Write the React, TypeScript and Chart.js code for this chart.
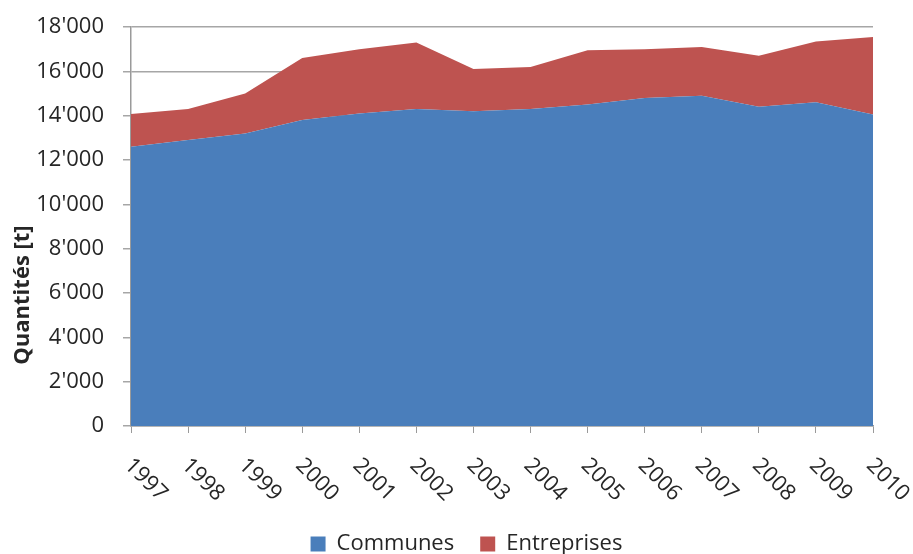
import React, { useEffect, useRef } from "react";
import { Chart, registerables } from "chart.js";

Chart.register(...registerables);

const years = ["1997", "1998", "1999", "2000", "2001", "2002", "2003", "2004", "2005", "2006", "2007", "2008", "2009", "2010"];
const communes = [12600, 12900, 13200, 13800, 14100, 14300, 14200, 14300, 14500, 14800, 14900, 14400, 14600, 14050];
const entreprises = [1470, 1400, 1800, 2800, 2900, 3000, 1900, 1900, 2450, 2200, 2200, 2300, 2750, 3500];
const yAxisTitle = "Quantités [t]";

const FONT = '"Open Sans", sans-serif';
const TEXT = "#262626";

function fmt(v: number): string {
  return String(v).replace(/\B(?=(\d{3})+(?!\d))/g, "'");
}

export default function App() {
  const ref = useRef<HTMLCanvasElement>(null);

  useEffect(() => {
    if (!ref.current) return;

    const decor = {
      id: "decor",
      afterDraw(chart: any) {
        const ctx = chart.ctx;
        const xs = chart.scales.x;
        const bottom = chart.chartArea.bottom;
        ctx.save();
        ctx.font = `22px ${FONT}`;
        ctx.fillStyle = TEXT;
        ctx.textAlign = "left";
        ctx.textBaseline = "middle";
        years.forEach((y, i) => {
          const px = xs.getPixelForValue(i);
          ctx.save();
          ctx.translate(px - 3, bottom + 36);
          ctx.rotate(Math.PI / 4);
          ctx.fillText(y, 0, 0);
          ctx.restore();
        });
        ctx.save();
        ctx.font = `bold 22px ${FONT}`;
        ctx.textAlign = "center";
        ctx.translate(23, 295);
        ctx.rotate(-Math.PI / 2);
        ctx.fillText(yAxisTitle, 0, 0);
        ctx.restore();
        ctx.restore();
      },
    };

    const chart = new Chart(ref.current, {
      type: "line",
      data: {
        labels: years,
        datasets: [
          {
            label: "Communes",
            data: communes,
            backgroundColor: "#4a7ebb",
            borderColor: "#4a7ebb",
            borderWidth: 0,
            pointRadius: 0,
            fill: "origin",
            tension: 0,
          },
          {
            label: "Entreprises",
            data: entreprises,
            backgroundColor: "#be5350",
            borderColor: "#be5350",
            borderWidth: 0,
            pointRadius: 0,
            fill: "-1",
            tension: 0,
          },
        ],
      },
      options: {
        responsive: false,
        animation: false,
        layout: { padding: { top: 27, left: 20, right: 0, bottom: -11 } },
        plugins: {
          legend: {
            position: "bottom",
            labels: {
              boxWidth: 15,
              boxHeight: 15,
              padding: 26,
              color: TEXT,
              font: { family: FONT, size: 22 },
            },
          },
          tooltip: { enabled: false },
        },
        scales: {
          x: {
            type: "category",
            offset: false,
            grid: { drawOnChartArea: false, drawTicks: true, tickLength: 7, color: "#9a9a9a" },
            border: { display: true, color: "#9a9a9a", width: 1.5 },
            ticks: { display: false },
            afterFit(scale: any) {
              scale.height = 81;
              scale.paddingLeft = 0;
              scale.paddingRight = 0;
            },
          },
          y: {
            stacked: true,
            min: 0,
            max: 18000,
            grid: { color: "#a6a6a6", lineWidth: 1.5, drawTicks: true, tickLength: 8 },
            border: { display: true, color: "#9a9a9a", width: 1.5 },
            ticks: {
              stepSize: 2000,
              padding: 19,
              color: TEXT,
              font: { family: FONT, size: 22 },
              callback: (v: any) => fmt(Number(v)),
            },
            afterFit(scale: any) {
              scale.width = 111;
              scale.paddingTop = 0;
              scale.paddingBottom = 0;
            },
          },
          yr: {
            position: "right",
            display: true,
            grid: { display: false, drawTicks: false },
            border: { display: false },
            ticks: { display: false },
            afterFit(scale: any) {
              scale.width = 40;
              scale.paddingTop = 0;
              scale.paddingBottom = 0;
            },
          },
        },
      },
      plugins: [decor],
    });

    return () => chart.destroy();
  }, []);

  return (
    <div style={{ position: "absolute", left: 0, top: 0, width: 913, height: 554, background: "#fff" }}>
      <canvas ref={ref} width={913} height={554} />
    </div>
  );
}
